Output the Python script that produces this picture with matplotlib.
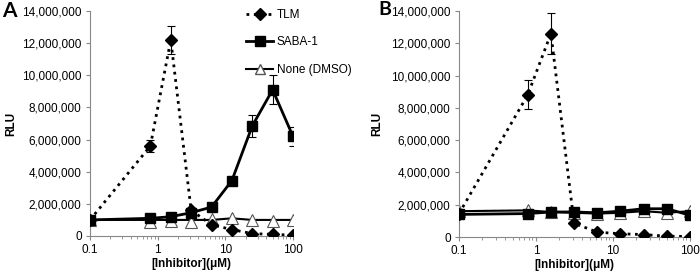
import matplotlib
matplotlib.use("Agg")
import matplotlib.pyplot as plt
from matplotlib.ticker import FuncFormatter, FixedLocator, LogLocator, NullFormatter
from matplotlib.lines import Line2D

plt.rcParams['font.family'] = ['Liberation Sans', 'DejaVu Sans']

conc = [0.1, 0.78, 1.5625, 3.125, 6.25, 12.5, 25, 50, 100]

a_tlm = [1.0e6, 5.6e6, 12.2e6, 1.6e6, 0.7e6, 0.4e6, 0.15e6, 0.1e6, 0.05e6]
a_tlm_err = [0, 0.35e6, 0.85e6, 0, 0, 0, 0, 0, 0]
a_saba = [1.0e6, 1.1e6, 1.2e6, 1.45e6, 1.8e6, 3.45e6, 6.85e6, 9.1e6, 6.2e6]
a_saba_err = [0, 0, 0, 0, 0, 0.25e6, 0.7e6, 0.9e6, 0.6e6]
a_dmso = [1.0e6, 0.9e6, 0.95e6, 0.9e6, 1.05e6, 1.1e6, 1.0e6, 0.95e6, 1.0e6]
a_dmso_line = [1.0e6, 1.0e6, 1.0e6, 1.0e6, 1.0e6, 1.1e6, 1.0e6, 1.0e6, 1.0e6]

b_tlm = [1.45e6, 8.8e6, 12.6e6, 0.85e6, 0.3e6, 0.2e6, 0.15e6, 0.05e6, 0.03e6]
b_tlm_err = [0, 0.9e6, 1.25e6, 0, 0, 0, 0, 0, 0]
b_saba = [1.4e6, 1.45e6, 1.55e6, 1.55e6, 1.5e6, 1.6e6, 1.75e6, 1.75e6, 1.35e6]
b_dmso = [1.6e6, 1.65e6, 1.55e6, 1.5e6, 1.45e6, 1.5e6, 1.6e6, 1.5e6, 1.6e6]

yticks = [0, 2e6, 4e6, 6e6, 8e6, 10e6, 12e6, 14e6]
xticks = [0.1, 1, 10, 100]
xticklabels = ['0.1', '1', '10', '100']

fig = plt.figure(figsize=(7, 2.72), dpi=100)
W, H = 700, 272
axA = fig.add_axes([90/W, 1-236/H, (293-90)/W, (236-11)/H])
axB = fig.add_axes([459/W, 1-237/H, (690-459)/W, (237-11)/H])

def style(ax, ylab_x):
    ax.set_xscale('log')
    ax.set_xlim(0.1, 100)
    ax.set_ylim(0, 14e6)
    ax.set_yticks(yticks)
    ax.yaxis.set_major_formatter(FuncFormatter(lambda v, p: f"{int(v):,}"))
    ax.xaxis.set_major_locator(FixedLocator(xticks))
    ax.set_xticklabels(xticklabels)
    ax.xaxis.set_minor_locator(LogLocator(base=10, subs=range(2, 10)))
    ax.xaxis.set_minor_formatter(NullFormatter())
    for s in ['top', 'right']:
        ax.spines[s].set_visible(False)
    for s in ['left', 'bottom']:
        ax.spines[s].set_color('#888888')
        ax.spines[s].set_linewidth(0.8)
    ax.tick_params(axis='both', which='major', labelsize=8.5, color='#888888', length=3, direction='out')
    ax.tick_params(axis='x', which='minor', color='#888888', length=2, direction='out')
    ax.tick_params(axis='x', which='major', pad=3)
    ax.tick_params(axis='y', which='major', pad=3)
    ax.set_ylabel('RLU', fontsize=8.5, fontweight='bold')
    ax.yaxis.set_label_coords(ylab_x, 0.5)
    ax.set_xlabel('[Inhibitor](μM)', fontsize=8.5, fontweight='bold', labelpad=1)
    ax.patch.set_alpha(0)

# Panel A
axA.plot(conc, a_dmso_line, '-', color='black', lw=1.5, zorder=2)
axA.plot(conc, a_dmso, linestyle='none', marker='^', ms=8, mfc='white', mec='#555555', mew=0.8, zorder=3)
axA.plot(conc, a_saba, '-', color='black', lw=2.0, marker='s', ms=7, zorder=4)
axA.errorbar(conc, a_saba, yerr=a_saba_err, fmt='none', ecolor='black', elinewidth=0.8, capsize=3, capthick=0.8, zorder=4)
axA.plot(conc, a_tlm, ':', color='black', lw=2.0, marker='D', ms=6.5, zorder=5)
axA.errorbar(conc, a_tlm, yerr=a_tlm_err, fmt='none', ecolor='black', elinewidth=0.8, capsize=3, capthick=0.8, zorder=5)
style(axA, -0.36)

handles = [
    Line2D([], [], linestyle=':', color='black', lw=2.0, marker='D', ms=6),
    Line2D([], [], linestyle='-', color='black', lw=2.0, marker='s', ms=7),
    Line2D([], [], linestyle='-', color='black', lw=1.5, marker='^', ms=7, mfc='white', mec='#555555'),
]
fig.legend(handles, ['TLM', 'SABA-1', 'None (DMSO)'], loc='upper left',
           bbox_to_anchor=(246/W, 1-9/H), borderaxespad=0, borderpad=0,
           frameon=False, fontsize=8.5, handlelength=2.3, labelspacing=1.3, handletextpad=0.3)

# Panel B
axB.plot(conc, b_dmso, '-', color='black', lw=1.5, marker='^', ms=8, mfc='white', mec='#555555', mew=0.8, zorder=2)
axB.plot(conc, b_saba, '-', color='black', lw=2.0, marker='s', ms=7, zorder=4)
axB.plot(conc, b_tlm, ':', color='black', lw=2.0, marker='D', ms=6.5, zorder=5)
axB.errorbar(conc, b_tlm, yerr=b_tlm_err, fmt='none', ecolor='black', elinewidth=0.8, capsize=3, capthick=0.8, zorder=5)
style(axB, -0.33)

fig.text(2/W, 1-1/H, 'A', fontsize=15, fontweight='bold', va='top', ha='left', family=['Lato', 'DejaVu Sans'])
fig.text(378/W, 1-1/H, 'B', fontsize=14, fontweight='bold', va='top', ha='left', family=['Lato', 'DejaVu Sans'])

fig.savefig('out.png', dpi=100)
